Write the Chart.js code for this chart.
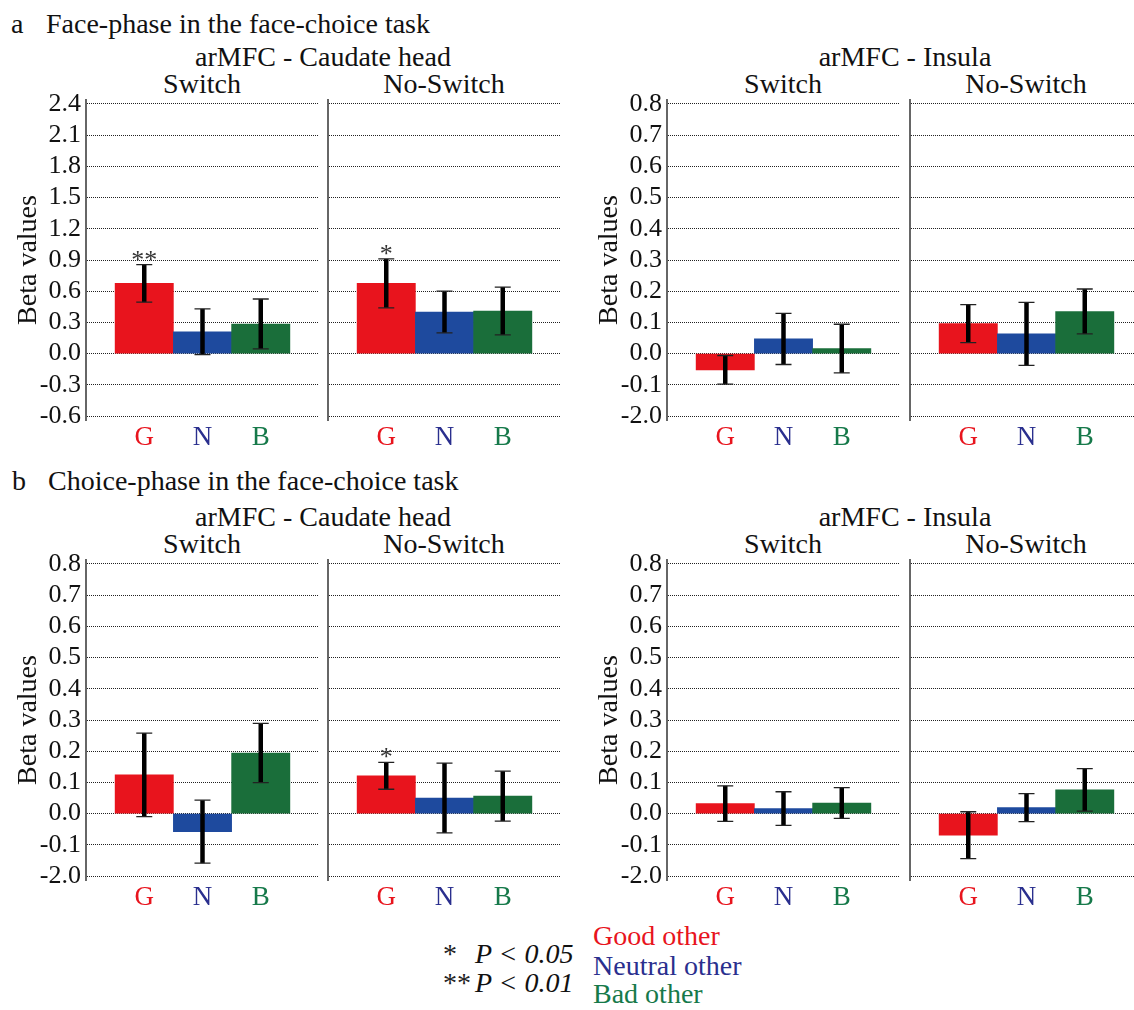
<!DOCTYPE html>
<html lang="en">
<head>
  <meta charset="UTF-8" />
  <title>arMFC connectivity - face-choice task</title>
  <script src="https://cdn.jsdelivr.net/npm/chart.js@4.4.1/dist/chart.umd.min.js"></script>
  <style>
    body {
      margin: 0;
      width: 1134px;
      height: 1010px;
      position: relative;
      overflow: hidden;
      background: #ffffff;
      font-family: 'Liberation Serif', 'Times New Roman', serif;
      color: #111;
    }
    .t {
      position: absolute;
      white-space: nowrap;
      font-size: 28px;
      line-height: 28px;
    }
    .c {
      width: 400px;
      text-align: center;
    }
    .panel {
      position: absolute;
    }
  </style>
</head>
<body>
  <!-- row a -->
  <div class="t" style="left:11px;top:10px">a</div>
  <div class="t" style="left:46px;top:10px">Face-phase in the face-choice task</div>
  <div class="t c" style="left:123px;top:43px">arMFC - Caudate head</div>
  <div class="t c" style="left:2px;top:70px">Switch</div>
  <div class="t c" style="left:244px;top:70px">No-Switch</div>
  <div class="t c" style="left:705px;top:43px">arMFC - Insula</div>
  <div class="t c" style="left:583px;top:70px">Switch</div>
  <div class="t c" style="left:826px;top:70px">No-Switch</div>

  <!-- row b -->
  <div class="t" style="left:12px;top:467px">b</div>
  <div class="t" style="left:48px;top:467px">Choice-phase in the face-choice task</div>
  <div class="t c" style="left:123px;top:503px">arMFC - Caudate head</div>
  <div class="t c" style="left:2px;top:530px">Switch</div>
  <div class="t c" style="left:244px;top:530px">No-Switch</div>
  <div class="t c" style="left:705px;top:503px">arMFC - Insula</div>
  <div class="t c" style="left:583px;top:530px">Switch</div>
  <div class="t c" style="left:826px;top:530px">No-Switch</div>

  <!-- legend -->
  <div class="t" style="left:443px;top:940px;color:#222">*</div>
  <div class="t" style="left:475px;top:940px;font-style:italic">P &lt; 0.05</div>
  <div class="t" style="left:443px;top:969px;color:#222">**</div>
  <div class="t" style="left:475px;top:969px;font-style:italic">P &lt; 0.01</div>
  <div class="t" style="left:593px;top:922px;color:#e8141d">Good other</div>
  <div class="t" style="left:593px;top:952px;color:#2a2f8e">Neutral other</div>
  <div class="t" style="left:593px;top:980px;color:#16794a">Bad other</div>

  <div class="panel" style="left:0px;top:90px"><canvas id="faceCaudSwitch" width="319" height="370"></canvas></div>
  <div class="panel" style="left:326px;top:90px"><canvas id="faceCaudNoSwitch" width="235" height="370"></canvas></div>
  <div class="panel" style="left:581px;top:90px"><canvas id="faceInsSwitch" width="319" height="370"></canvas></div>
  <div class="panel" style="left:908px;top:90px"><canvas id="faceInsNoSwitch" width="235" height="370"></canvas></div>
  <div class="panel" style="left:0px;top:550px"><canvas id="choiceCaudSwitch" width="319" height="370"></canvas></div>
  <div class="panel" style="left:326px;top:550px"><canvas id="choiceCaudNoSwitch" width="235" height="370"></canvas></div>
  <div class="panel" style="left:581px;top:550px"><canvas id="choiceInsSwitch" width="319" height="370"></canvas></div>
  <div class="panel" style="left:908px;top:550px"><canvas id="choiceInsNoSwitch" width="235" height="370"></canvas></div>

  <script>
    const SERIF = "'Liberation Serif', 'Times New Roman', serif";

    const groups = ['G', 'N', 'B'];
    const barColors = ['#e8141d', '#1e4a9e', '#1a6e3a'];
    const labelColors = ['#e8141d', '#2a2f8e', '#16794a'];

    // y ticks (the bottom label reads "-2.0" in the original figure)
    const caudFaceTicks = [-0.6, -0.3, 0, 0.3, 0.6, 0.9, 1.2, 1.5, 1.8, 2.1, 2.4];
    const caudFaceTickLabels = ['-0.6', '-0.3', '0.0', '0.3', '0.6', '0.9', '1.2', '1.5', '1.8', '2.1', '2.4'];
    const smallTicks = [-0.2, -0.1, 0, 0.1, 0.2, 0.3, 0.4, 0.5, 0.6, 0.7, 0.8];
    const smallTickLabels = ['-2.0', '-0.1', '0.0', '0.1', '0.2', '0.3', '0.4', '0.5', '0.6', '0.7', '0.8'];

    // a: face phase
    const faceCaudSwitch = [0.675, 0.21, 0.285];
    const faceCaudSwitchErr = [0.18, 0.22, 0.24];
    const faceCaudSwitchStars = ['**', '', ''];
    const faceCaudNoSwitch = [0.675, 0.40, 0.41];
    const faceCaudNoSwitchErr = [0.235, 0.20, 0.23];
    const faceCaudNoSwitchStars = ['*', '', ''];
    const faceInsSwitch = [-0.052, 0.047, 0.016];
    const faceInsSwitchErr = [0.046, 0.082, 0.078];
    const faceInsNoSwitch = [0.096, 0.063, 0.135];
    const faceInsNoSwitchErr = [0.061, 0.101, 0.072];

    // b: choice phase
    const choiceCaudSwitch = [0.124, -0.058, 0.194];
    const choiceCaudSwitchErr = [0.134, 0.101, 0.095];
    const choiceCaudNoSwitch = [0.121, 0.050, 0.056];
    const choiceCaudNoSwitchErr = [0.043, 0.112, 0.080];
    const choiceCaudNoSwitchStars = ['*', '', ''];
    const choiceInsSwitch = [0.032, 0.016, 0.034];
    const choiceInsSwitchErr = [0.057, 0.054, 0.049];
    const choiceInsNoSwitch = [-0.069, 0.019, 0.076];
    const choiceInsNoSwitchErr = [0.075, 0.045, 0.068];

    Chart.defaults.font.family = SERIF;
    Chart.defaults.color = '#111';

    // error bars + significance stars drawn over the bars
    function errorPlugin(values, errors, stars) {
      return {
        id: 'errbars',
        afterDatasetsDraw(chart) {
          const ctx = chart.ctx;
          const xs = chart.scales.x, ys = chart.scales.y;
          ctx.save();
          values.forEach((v, i) => {
            const x = xs.getPixelForValue(i + 1);
            const top = ys.getPixelForValue(v + errors[i]);
            const bot = ys.getPixelForValue(v - errors[i]);
            ctx.strokeStyle = '#000';
            ctx.lineWidth = 4.5;
            ctx.beginPath();
            ctx.moveTo(x, top);
            ctx.lineTo(x, bot);
            ctx.stroke();
            ctx.strokeStyle = '#222';
            ctx.lineWidth = 1.3;
            ctx.beginPath();
            ctx.moveTo(x - 8, top);
            ctx.lineTo(x + 8, top);
            ctx.moveTo(x - 8, bot);
            ctx.lineTo(x + 8, bot);
            ctx.stroke();
            if (stars && stars[i]) {
              ctx.fillStyle = '#333';
              ctx.font = '26px ' + SERIF;
              ctx.textAlign = 'center';
              ctx.textBaseline = 'alphabetic';
              ctx.fillText(stars[i], x, top + 3);
            }
          });
          ctx.restore();
        }
      };
    }

    function makePanel(id, values, errors, stars, ticks, tickLabels, withAxisLabels) {
      const step = ticks[1] - ticks[0];
      const pad = step * 0.128;
      new Chart(document.getElementById(id), {
        type: 'bar',
        data: {
          datasets: [{
            data: values.map((v, i) => ({ x: i + 1, y: v })),
            backgroundColor: barColors,
            borderWidth: 0,
            barPercentage: 1,
            categoryPercentage: 1
          }]
        },
        options: {
          responsive: false,
          animation: false,
          devicePixelRatio: 1,
          layout: { padding: { top: 10, left: withAxisLabels ? 0 : 2, right: 0, bottom: 0 } },
          plugins: { legend: { display: false }, tooltip: { enabled: false } },
          scales: {
            x: {
              type: 'linear',
              min: 0,
              max: 4,
              offset: false,
              afterBuildTicks: s => { s.ticks = [1, 2, 3].map(v => ({ value: v })); },
              afterFit: s => { s.height = 40; s.paddingLeft = 0; s.paddingRight = 0; },
              grid: { display: false, drawTicks: false, offset: false },
              border: { display: false },
              ticks: {
                autoSkip: false,
                maxRotation: 0,
                padding: 2,
                font: { family: SERIF, size: 27 },
                color: c => labelColors[c.index],
                callback: (v, i) => groups[i]
              }
            },
            y: {
              min: ticks[0] - pad,
              max: ticks[ticks.length - 1] + pad,
              afterBuildTicks: s => { s.ticks = ticks.map(v => ({ value: v })); },
              afterFit: s => { s.width = withAxisLabels ? 86 : 0; s.paddingTop = 0; s.paddingBottom = 0; },
              grid: { color: '#222', lineWidth: 1, drawTicks: false },
              border: { display: true, color: '#666', width: 2, dash: [1, 1] },
              title: {
                display: withAxisLabels,
                text: 'Beta values',
                font: { family: SERIF, size: 28 },
                color: '#111',
                padding: { top: 12, bottom: 0 }
              },
              ticks: {
                display: withAxisLabels,
                autoSkip: false,
                padding: 5,
                font: { family: SERIF, size: 26 },
                color: '#111',
                callback: (v, i) => tickLabels[i]
              }
            }
          }
        },
        plugins: [errorPlugin(values, errors, stars)]
      });
    }

    makePanel('faceCaudSwitch', faceCaudSwitch, faceCaudSwitchErr, faceCaudSwitchStars, caudFaceTicks, caudFaceTickLabels, true);
    makePanel('faceCaudNoSwitch', faceCaudNoSwitch, faceCaudNoSwitchErr, faceCaudNoSwitchStars, caudFaceTicks, caudFaceTickLabels, false);
    makePanel('faceInsSwitch', faceInsSwitch, faceInsSwitchErr, null, smallTicks, smallTickLabels, true);
    makePanel('faceInsNoSwitch', faceInsNoSwitch, faceInsNoSwitchErr, null, smallTicks, smallTickLabels, false);
    makePanel('choiceCaudSwitch', choiceCaudSwitch, choiceCaudSwitchErr, null, smallTicks, smallTickLabels, true);
    makePanel('choiceCaudNoSwitch', choiceCaudNoSwitch, choiceCaudNoSwitchErr, choiceCaudNoSwitchStars, smallTicks, smallTickLabels, false);
    makePanel('choiceInsSwitch', choiceInsSwitch, choiceInsSwitchErr, null, smallTicks, smallTickLabels, true);
    makePanel('choiceInsNoSwitch', choiceInsNoSwitch, choiceInsNoSwitchErr, null, smallTicks, smallTickLabels, false);
  </script>
</body>
</html>
